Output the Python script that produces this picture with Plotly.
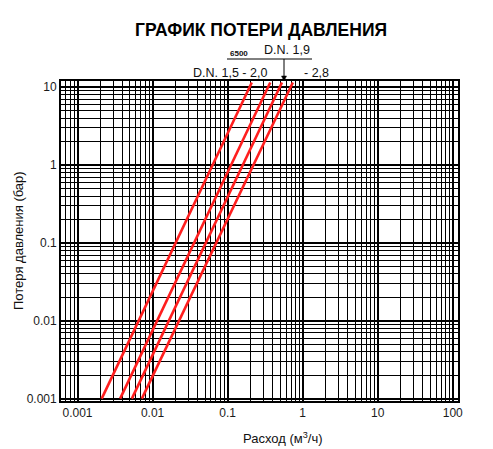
import plotly.graph_objects as go

# Pressure loss endpoints (bar) and flow (m3/h) for each curve
dp = [0.001, 11.5]
q_series = {
    "6500 D.N. 1,5": [0.0021, 0.21],
    "D.N. 1,9": [0.0037, 0.37],
    "D.N. 2,0": [0.0053, 0.53],
    "D.N. 2,8": [0.0072, 0.74],
}

x_decades = [0.001, 0.01, 0.1, 1, 10, 100]
x_labels = ["0.001", "0.01", "0.1", "1", "10", "100"]
y_decades = [0.001, 0.01, 0.1, 1, 10]
y_labels = ["0.001", "0.01", "0.1", "1", "10"]
x_minor_decades = [0.0001] + x_decades
y_minor_decades = y_decades


def minor_vals(decades):
    vals = []
    for d in decades:
        for k in range(2, 10):
            vals.append(round(d * k, 10))
    return vals


fig = go.Figure()
for name, q in q_series.items():
    fig.add_trace(go.Scatter(x=q, y=dp, mode="lines", name=name,
                             line=dict(color="#ff1e1e", width=2.6),
                             showlegend=False, hoverinfo="skip"))

axis_font = dict(family="Liberation Sans, Arial, sans-serif", size=12, color="#1a1a1a")
common = dict(type="log", tickmode="array", showgrid=True, gridcolor="black",
              gridwidth=2.2, showline=True, linecolor="black", linewidth=1.8,
              mirror=True, ticks="", tickfont=axis_font, zeroline=False)
fig.update_xaxes(range=[-3.22, 2.07], tickvals=x_decades, ticktext=x_labels,
                 minor=dict(tickmode="array", tickvals=minor_vals(x_minor_decades),
                            showgrid=True, gridcolor="black", gridwidth=1.3, ticks=""),
                 **common)
fig.update_yaxes(range=[-3.03, 1.08], tickvals=y_decades, ticktext=y_labels,
                 minor=dict(tickmode="array", tickvals=minor_vals(y_minor_decades),
                            showgrid=True, gridcolor="black", gridwidth=1.3, ticks=""),
                 **common)

title_font = dict(family="Liberation Sans, Arial", size=17.5, color="black")
ann_font = dict(family="Liberation Sans, Arial", size=12.5, color="#111")

W, H = 493, 449
L, R, T, B = 61, 35, 81, 48
pw, ph = W - L - R, H - T - B


def px(xp):
    return (xp - L) / pw


def py(yp):
    return (H - B - yp) / ph


annotations = [
    dict(text="<b>ГРАФИК ПОТЕРИ ДАВЛЕНИЯ</b>", x=261, y=30, font=title_font),
    dict(text="<b>6500</b>", x=239, y=53, font=dict(family=ann_font["family"], size=8, color="#111")),
    dict(text="D.N. 1,9", x=287, y=50, font=ann_font),
    dict(text="D.N. 1,5 - 2,0", x=230, y=73, font=ann_font),
    dict(text="- 2,8", x=316, y=73, font=ann_font),
    dict(text="Расход (м<sup>3</sup>/ч)", x=283, y=438,
         font=dict(family="Liberation Sans, Arial", size=13, color="#111")),
    dict(text="Потеря давления (бар)", x=18, y=241, textangle=-90,
         font=dict(family="Liberation Sans, Arial", size=13, color="#111")),
]
for a in annotations:
    fig.add_annotation(text=a["text"], x=px(a["x"]), y=py(a["y"]),
                       xref="paper", yref="paper", showarrow=False,
                       font=a["font"], textangle=a.get("textangle", 0),
                       xanchor="center", yanchor="middle")

# leader line and arrow
fig.add_shape(type="line", xref="paper", yref="paper",
              x0=px(227), x1=px(312), y0=py(59), y1=py(59),
              line=dict(color="black", width=1))
fig.add_shape(type="line", xref="paper", yref="paper",
              x0=px(284), x1=px(284), y0=py(59), y1=py(77),
              line=dict(color="black", width=1))
fig.add_shape(type="path", xref="paper", yref="paper",
              path=f"M {px(281.5)} {py(76)} L {px(286.5)} {py(76)} L {px(284)} {py(81)} Z",
              fillcolor="black", line=dict(color="black", width=0.5))

fig.update_layout(width=W, height=H, margin=dict(l=L, r=R, t=T, b=B),
                  plot_bgcolor="white", paper_bgcolor="white",
                  showlegend=False)

fig.write_html("out.html")
